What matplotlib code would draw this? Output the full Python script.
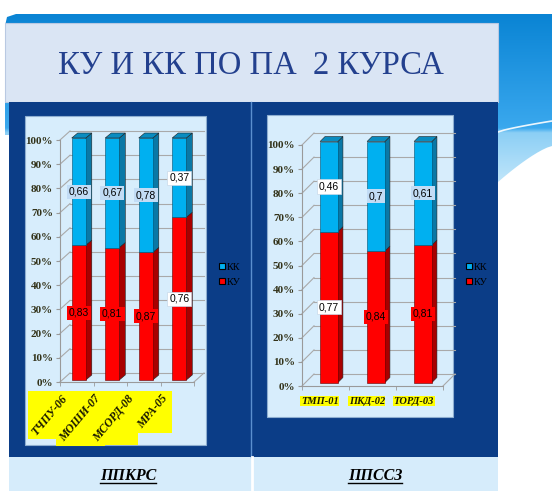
import numpy as np
import matplotlib
matplotlib.use("Agg")
import matplotlib.pyplot as plt
from matplotlib.patches import Rectangle, Polygon, Patch
from matplotlib.colors import to_rgb

# ---------------- data ----------------
title = "КУ И КК ПО ПА  2 КУРСА"
left_groups = ["ТЧПУ-06", "МОШИ-07", "МСОРД-08", "МРА-05"]
left_ku = [0.83, 0.81, 0.87, 0.76]
left_kk = [0.66, 0.67, 0.78, 0.37]
right_groups = ["ТМП-01", "ПКД-02", "ТОРД-03"]
right_ku = [0.77, 0.84, 0.81]
right_kk = [0.46, 0.70, 0.61]
section_labels = ["ППКРС", "ППССЗ"]
series_names = ["КК", "КУ"]
y_tick_values = [0, 10, 20, 30, 40, 50, 60, 70, 80, 90, 100]

# ---------------- styling ----------------
W, H = 552, 491
BLUE, BLUE_SIDE, BLUE_TOP = "#00b0f0", "#0a78a6", "#0a8cc0"
RED, RED_SIDE = "#ff0000", "#a80000"
SERIF = ["Liberation Serif", "DejaVu Serif"]
NARROW = ["Liberation Sans Narrow", "Liberation Sans", "DejaVu Sans"]

fig = plt.figure(figsize=(W / 100, H / 100), dpi=100)
fig.patch.set_facecolor("white")


def frect(x0, y0, x1, y1):
    return [x0 / W, 1 - y1 / H, (x1 - x0) / W, (y1 - y0) / H]


bg = fig.add_axes([0, 0, 1, 1], zorder=0)
bg.set_xlim(0, W)
bg.set_ylim(H, 0)
bg.axis("off")

# blue decorative band (gradient)
ys = np.linspace(14, 190, 200)
stops_y = [14, 128, 133, 190]
stops_c = [to_rgb("#0a84d4"), to_rgb("#3aa8ee"), to_rgb("#8ccff5"), to_rgb("#c8e9fb")]
cols = np.array([[np.interp(y, stops_y, [c[k] for c in stops_c]) for k in range(3)] for y in ys])
img = np.repeat(cols[:, None, :], 2, axis=1)
im = bg.imshow(img, extent=[5, W, 190, 14], aspect="auto", zorder=0.5, interpolation="bilinear")
wx = np.linspace(W, 498, 12)
wy = 146 + 36 * ((W - wx) / 54) ** 1.3
verts = [(5, 26), (7, 17), (16, 14), (W, 14)] + list(zip(wx, wy)) + [(9, 182), (9, 135), (5, 135), (5, 26)]
clip = Polygon(verts, closed=True, transform=bg.transData, fc="none", ec="none")
bg.add_patch(clip)
im.set_clip_path(clip)
lx = np.linspace(498, W, 10)
bg.plot(lx, 132 - 11 * ((lx - 498) / 54) ** 0.8, color="white", lw=1.2, alpha=0.9, zorder=0.6)

# panels
bg.add_patch(Rectangle((5, 23), 493, 79, fc="#dae5f4", ec="#b9c9e2", lw=0.8, zorder=1))
bg.add_patch(Rectangle((9, 102), 489, 355, fc="#0b3d87", ec="none", zorder=1))
bg.add_patch(Rectangle((9, 457), 489, 34, fc="#d6ecfb", ec="none", zorder=1))
bg.plot([251, 251], [102, 457], color="#5b8fcf", lw=1.0, zorder=1.2)
bg.plot([251.5, 251.5], [457, 491], color="white", lw=2.0, zorder=1.2)
bg.add_patch(Rectangle((25, 116), 181, 329, fc="#d7edfc", ec="#8eaed0", lw=0.8, zorder=1.5))
bg.add_patch(Rectangle((267, 115), 186, 302, fc="#d7edfc", ec="#8eaed0", lw=0.8, zorder=1.5))

bg.text(251, 66, title, ha="center", va="center", fontsize=23.5, color="#23408e",
        family=SERIF, zorder=2)

sec_texts = []
for xc, lab in zip([128, 375], section_labels):
    t = bg.text(xc, 476, lab, ha="center", va="center", fontsize=11.5, fontweight="bold",
                fontstyle="italic", family=SERIF, color="black", zorder=2)
    sec_texts.append(t)


def fmt(v):
    return f"{v:.2f}".rstrip("0").replace(".", ",")


def draw_chart(ax, groups, ku, kk, ax_px, wall_px, bar_px, width, white_idx, rotated):
    n = len(groups)
    ax.set_xlim(-0.5, n - 0.5)
    ax.set_ylim(0, 1)
    ax.patch.set_visible(False)
    wpx, hpx = ax_px
    ux, uy = wpx / n, hpx
    wdx, wdy = wall_px[0] / ux, wall_px[1] / uy
    bdx, bdy = bar_px[0] / ux, bar_px[1] / uy
    sx, sy = (wdx - bdx) / 2, (wdy - bdy) / 2
    grid_c = "#a9a9a9"
    for v in y_tick_values:
        y = v / 100
        ax.plot([-0.5, -0.5 + wdx], [y, y + wdy], color=grid_c, lw=0.8, clip_on=False, zorder=1)
        ax.plot([-0.5 + wdx, n - 0.5 + wdx], [y + wdy, y + wdy], color=grid_c, lw=0.8,
                clip_on=False, zorder=1)
    ax.plot([n - 0.5, n - 0.5 + wdx], [0, wdy], color=grid_c, lw=0.8, clip_on=False, zorder=1)

    ku = np.array(ku)
    kk = np.array(kk)
    tot = ku + kk
    ku_s, kk_s = ku / tot, kk / tot
    x = np.arange(n)
    xb = x + sx
    b1 = ax.bar(xb, ku_s, width, bottom=sy, color=RED, edgecolor="#600000", lw=0.4, zorder=3)
    b2 = ax.bar(xb, kk_s, width, bottom=sy + ku_s, color=BLUE, edgecolor="#005070", lw=0.4, zorder=3)
    for p in list(b1) + list(b2):
        p.set_clip_on(False)
    for i in range(n):
        r = xb[i] + width / 2
        l = xb[i] - width / 2
        segs = [(sy, sy + ku_s[i], RED_SIDE), (sy + ku_s[i], sy + 1, BLUE_SIDE)]
        for b, t, c in segs:
            ax.add_patch(Polygon([(r, b), (r + bdx, b + bdy), (r + bdx, t + bdy), (r, t)],
                                 closed=True, fc=c, ec="#202020", lw=0.4, zorder=2.9, clip_on=False))
        top = sy + 1
        ax.add_patch(Polygon([(l, top), (l + bdx, top + bdy), (r + bdx, top + bdy), (r, top)],
                             closed=True, fc=BLUE_TOP, ec="#202020", lw=0.4, zorder=3.1, clip_on=False))
        kk_bg = "white" if i in white_idx else "#c2dcf5"
        ku_bg = "white" if i in white_idx else RED
        ec = "#c8d8e8" if i in white_idx else "none"
        ax.text(xb[i], sy + ku_s[i] + kk_s[i] / 2, fmt(kk[i]),
                ha="center", va="center", fontsize=7.5, family=NARROW, color="black", zorder=5,
                bbox=dict(boxstyle="square,pad=0.2", fc=kk_bg, ec=ec, lw=0.5))
        ax.text(xb[i], sy + ku_s[i] / 2, fmt(ku[i]),
                ha="center", va="center", fontsize=7.5, family=NARROW, color="black", zorder=5,
                bbox=dict(boxstyle="square,pad=0.2", fc=ku_bg, ec=ec, lw=0.5))

    for s in ["top", "right"]:
        ax.spines[s].set_visible(False)
    for s in ["left", "bottom"]:
        ax.spines[s].set_color("#9a9a9a")
        ax.spines[s].set_linewidth(0.8)
    ax.set_yticks([v / 100 for v in y_tick_values])
    ax.set_yticklabels([f"{v}%" for v in y_tick_values])
    ax.tick_params(axis="y", length=3, color="#9a9a9a", pad=2, labelsize=8, labelcolor="#33331a")
    for lab in ax.get_yticklabels():
        lab.set_family(SERIF)
        lab.set_fontweight("bold")
    ax.set_xticks(x)
    ax.set_xticklabels([])
    ax.tick_params(axis="x", which="major", length=0)
    ax.set_xticks(np.arange(n + 1) - 0.5, minor=True)
    ax.tick_params(axis="x", which="minor", length=3, color="#9a9a9a")

    labs = []
    for i, g in enumerate(groups):
        if rotated:
            t = ax.text(i - 0.5 + 0.02, -0.045, g, rotation=50, rotation_mode="anchor",
                        ha="right", va="top", fontsize=8.5, fontweight="bold", fontstyle="italic",
                        family=SERIF, color="#1a1a00", zorder=6, clip_on=False)
        else:
            t = ax.text(i - 0.12, -0.045, g, ha="center", va="top", fontsize=7.5,
                        fontweight="bold", fontstyle="italic", family=SERIF, color="#1a1a00",
                        zorder=6, clip_on=False)
        labs.append(t)
    return labs


axL = fig.add_axes(frect(60, 140, 194, 382), zorder=2)
axR = fig.add_axes(frect(302, 145, 443, 386), zorder=2)
labsL = draw_chart(axL, left_groups, left_ku, left_kk, (134, 242), (10, 9), (6, 5), 0.42, {3}, True)
labsR = draw_chart(axR, right_groups, right_ku, right_kk, (141, 241), (12, 12), (5, 5), 0.38, {0}, False)

handles = [Patch(fc=BLUE, ec="black", lw=0.8), Patch(fc=RED, ec="black", lw=0.8)]
for lx0 in [219, 466]:
    fig.legend(handles, series_names, loc="upper left", bbox_to_anchor=(lx0 / W, 1 - 263 / H),
               frameon=False, handlelength=0.55, handleheight=0.55,
               handletextpad=0.15, labelspacing=0.55, borderpad=0, borderaxespad=0,
               prop={"family": SERIF, "size": 7.5})

# yellow highlight boxes behind category labels and underline for section labels
fig.canvas.draw()
r = fig.canvas.get_renderer()
inv = bg.transData.inverted()
for t, pad in [(t, 1.5) for t in labsL] + [(t, 0.5) for t in labsR]:
    bb = t.get_window_extent(r)
    (x0, y1), (x1, y0) = inv.transform([(bb.x0, bb.y0), (bb.x1, bb.y1)])
    bg.add_patch(Rectangle((x0 - pad, y0 - pad), x1 - x0 + 2 * pad, y1 - y0 + 2 * pad,
                           fc="#ffff00", ec="none", zorder=1.8))
for t in sec_texts:
    bb = t.get_window_extent(r)
    (x0, y1), (x1, y0) = inv.transform([(bb.x0, bb.y0), (bb.x1, bb.y1)])
    bg.plot([x0, x1], [y1 - 1.5, y1 - 1.5], color="black", lw=1.0, zorder=2)

fig.savefig("out.png", dpi=100, facecolor="white")
